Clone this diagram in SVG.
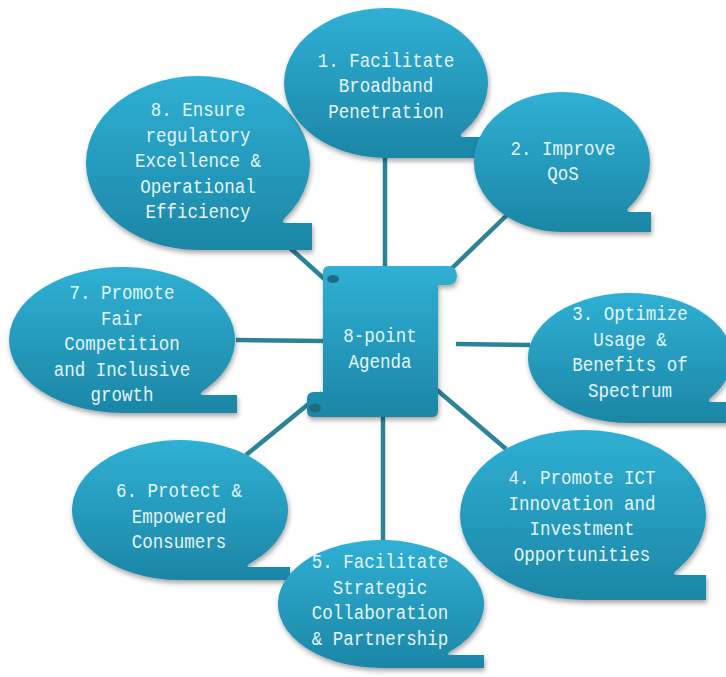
<svg xmlns="http://www.w3.org/2000/svg" width="726" height="677" viewBox="0 0 726 677">
<defs>
<linearGradient id="bub" x1="0" y1="0" x2="0" y2="1">
<stop offset="0" stop-color="#2fb0d4"/>
<stop offset="1" stop-color="#1c86a6"/>
</linearGradient>
<filter id="sh" x="-10%" y="-10%" width="125%" height="130%">
<feDropShadow dx="1" dy="3" stdDeviation="2.5" flood-color="#000" flood-opacity="0.35"/>
</filter>
<style>
.b{fill:url(#bub);filter:url(#sh);}
.t{font-family:"Liberation Mono","DejaVu Sans Mono",monospace;font-size:20px;fill:#e4f5fa;text-anchor:middle;}
.c{stroke:#2b8397;stroke-width:4.5;fill:none;}
.curl{fill:#1d6c82;}
</style>
</defs>
<rect width="726" height="677" fill="#ffffff"/>
<g id="connectors">
<line class="c" x1="385" y1="156" x2="385" y2="268"/>
<line class="c" x1="507" y1="215" x2="446" y2="274"/>
<line class="c" x1="456" y1="344" x2="530" y2="345"/>
<line class="c" x1="437" y1="390" x2="506" y2="449"/>
<line class="c" x1="383" y1="416" x2="383" y2="541"/>
<line class="c" x1="322" y1="393" x2="246" y2="455"/>
<line class="c" x1="236" y1="340" x2="324" y2="341"/>
<line class="c" x1="290" y1="248" x2="330" y2="284"/>
</g>
<g id="node-8">
<path class="b" d="M285.8,217 A112,87 0 1 0 198,250 L312,250 L312,223 L287.1,223 Q279.1,223 285.8,217 Z"/>
<text class="t" x="198" y="116" textLength="94.5" lengthAdjust="spacingAndGlyphs">8. Ensure</text>
<text class="t" x="198" y="141.5" textLength="105" lengthAdjust="spacingAndGlyphs">regulatory</text>
<text class="t" x="198" y="167" textLength="126" lengthAdjust="spacingAndGlyphs">Excellence &amp;</text>
<text class="t" x="198" y="192.5" textLength="115.5" lengthAdjust="spacingAndGlyphs">Operational</text>
<text class="t" x="198" y="218" textLength="105" lengthAdjust="spacingAndGlyphs">Efficiency</text>
</g>
<g id="node-1">
<path class="b" d="M464.4,131 A102,75 0 1 0 386,158 L490,158 L490,137 L464.8,137 Q456.8,137 464.4,131 Z"/>
<text class="t" x="386" y="66.5" textLength="136.5" lengthAdjust="spacingAndGlyphs">1. Facilitate</text>
<text class="t" x="386" y="92" textLength="94.5" lengthAdjust="spacingAndGlyphs">Broadband</text>
<text class="t" x="386" y="117.5" textLength="115.5" lengthAdjust="spacingAndGlyphs">Penetration</text>
</g>
<g id="node-2">
<path class="b" d="M630.4,206 A88,70 0 1 0 562,232 L651,232 L651,212 L631.6,212 Q623.6,212 630.4,206 Z"/>
<text class="t" x="563" y="155" textLength="105" lengthAdjust="spacingAndGlyphs">2. Improve</text>
<text class="t" x="563" y="180" textLength="31.5" lengthAdjust="spacingAndGlyphs">QoS</text>
</g>
<g id="node-3">
<path class="b" d="M712.7,396 A102,65 0 1 0 630,423 L740,423 L740,402 L713.1,402 Q705.1,402 712.7,396 Z"/>
<text class="t" x="630" y="320" textLength="115.5" lengthAdjust="spacingAndGlyphs">3. Optimize</text>
<text class="t" x="630" y="345.5" textLength="73.5" lengthAdjust="spacingAndGlyphs">Usage &amp;</text>
<text class="t" x="630" y="371" textLength="115.5" lengthAdjust="spacingAndGlyphs">Benefits of</text>
<text class="t" x="630" y="396.5" textLength="84" lengthAdjust="spacingAndGlyphs">Spectrum</text>
</g>
<g id="node-4">
<path class="b" d="M678,569 A123,85 0 1 0 583,600 L706,600 L706,575 L678.1,575 Q670.1,575 678,569 Z"/>
<text class="t" x="582" y="484" textLength="147" lengthAdjust="spacingAndGlyphs">4. Promote ICT</text>
<text class="t" x="582" y="509.5" textLength="147" lengthAdjust="spacingAndGlyphs">Innovation and</text>
<text class="t" x="582" y="535" textLength="105" lengthAdjust="spacingAndGlyphs">Investment</text>
<text class="t" x="582" y="560.5" textLength="136.5" lengthAdjust="spacingAndGlyphs">Opportunities</text>
</g>
<g id="node-7">
<path class="b" d="M205.8,389 A113,73 0 1 0 122,413 L237,413 L237,395 L204.4,395 Q196.4,395 205.8,389 Z"/>
<text class="t" x="122" y="299" textLength="105" lengthAdjust="spacingAndGlyphs">7. Promote</text>
<text class="t" x="122" y="324.5" textLength="42" lengthAdjust="spacingAndGlyphs">Fair</text>
<text class="t" x="122" y="350" textLength="115.5" lengthAdjust="spacingAndGlyphs">Competition</text>
<text class="t" x="122" y="375.5" textLength="136.5" lengthAdjust="spacingAndGlyphs">and Inclusive</text>
<text class="t" x="122" y="401" textLength="63" lengthAdjust="spacingAndGlyphs">growth</text>
</g>
<g id="node-6">
<path class="b" d="M254,561 A108,70 0 1 0 180,580 L290,580 L290,567 L250.7,567 Q242.7,567 254,561 Z"/>
<text class="t" x="179" y="497" textLength="126" lengthAdjust="spacingAndGlyphs">6. Protect &amp;</text>
<text class="t" x="179" y="522.5" textLength="94.5" lengthAdjust="spacingAndGlyphs">Empowered</text>
<text class="t" x="179" y="548" textLength="94.5" lengthAdjust="spacingAndGlyphs">Consumers</text>
</g>
<g id="node-5">
<path class="b" d="M454.2,649 A103,64 0 1 0 381,668 L484,668 L484,655 L451.2,655 Q443.2,655 454.2,649 Z"/>
<text class="t" x="380" y="568" textLength="136.5" lengthAdjust="spacingAndGlyphs">5. Facilitate</text>
<text class="t" x="380" y="593.5" textLength="94.5" lengthAdjust="spacingAndGlyphs">Strategic</text>
<text class="t" x="380" y="619" textLength="136.5" lengthAdjust="spacingAndGlyphs">Collaboration</text>
<text class="t" x="380" y="644.5" textLength="136.5" lengthAdjust="spacingAndGlyphs">&amp; Partnership</text>
</g>
<g id="center">
<path class="b" d="M329,266 L447,266 Q457,266 457,275.5 Q457,285 447,285 L438,285 L438,411 Q438,417 432,417 L313,417 Q307,417 307,411 L307,399 Q307,392 314,392 L323,392 L323,272 Q323,266 329,266 Z"/>
<ellipse class="curl" cx="333" cy="279" rx="6" ry="4"/>
<ellipse class="curl" cx="315" cy="408" rx="6" ry="4.5"/>
<text class="t" x="380" y="342" textLength="73.5" lengthAdjust="spacingAndGlyphs">8-point</text>
<text class="t" x="380" y="368" textLength="63" lengthAdjust="spacingAndGlyphs">Agenda</text>
</g>
</svg>
